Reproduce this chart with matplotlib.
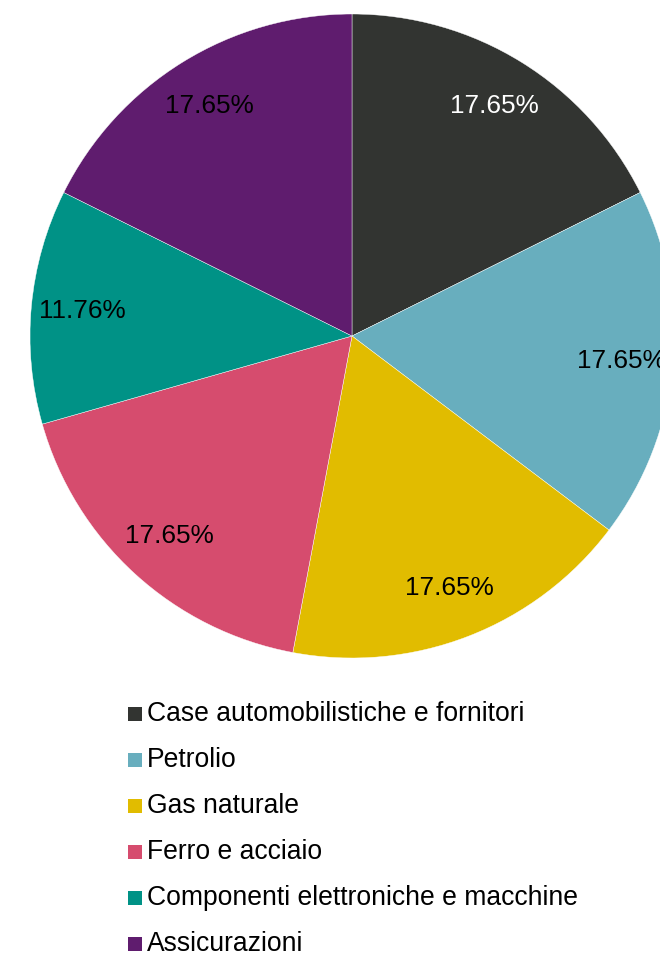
import matplotlib
matplotlib.use("Agg")
import matplotlib.pyplot as plt
from matplotlib.patches import Rectangle

plt.rcParams['font.family'] = ['Liberation Sans', 'DejaVu Sans']

categories = ["Case automobilistiche e fornitori", "Petrolio", "Gas naturale",
              "Ferro e acciaio", "Componenti elettroniche e macchine", "Assicurazioni"]
values = [3, 3, 3, 3, 2, 3]
colors = ["#323431", "#68AEBE", "#E1BC00", "#D64C6E", "#009286", "#5F1C6E"]
text_colors = ["white", "black", "black", "black", "black", "black"]

W, H = 660, 958
fig = plt.figure(figsize=(W / 100, H / 100), dpi=100)
cx, cy, R = 352, 336, 322
ax = fig.add_axes([(cx - R) / W, (H - cy - R) / H, 2 * R / W, 2 * R / H])
wedges, texts, autotexts = ax.pie(values, colors=colors, startangle=90, counterclock=False,
                                  autopct='%.2f%%', pctdistance=0.84, radius=1,
                                  wedgeprops=dict(edgecolor='white', linewidth=0.3),
                                  textprops=dict(fontsize=18.8))
for t, c in zip(autotexts, text_colors):
    t.set_color(c)
ax.set_xlim(-1, 1)
ax.set_ylim(-1, 1)
ax.set_aspect('auto')
ax.axis('off')

y0, dy = 714, 46
for i, (lab, col) in enumerate(zip(categories, colors)):
    y = y0 + i * dy
    fig.patches.append(Rectangle((128 / W, 1 - (y + 7) / H), 14 / W, 14 / H,
                                 transform=fig.transFigure, facecolor=col, edgecolor='none'))
    fig.text(147 / W, 1 - y / H, lab, fontsize=19.1, va='center', ha='left', color='black')

fig.savefig("out.png", dpi=100)
